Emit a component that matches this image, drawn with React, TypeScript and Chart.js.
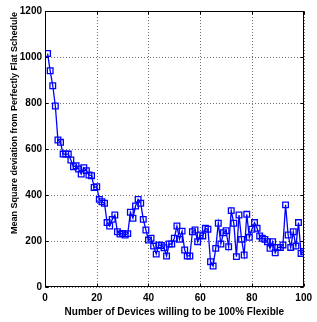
import React, { useEffect, useRef } from "react";
import { Chart, registerables } from "chart.js";

Chart.register(...registerables);

const devices = [
  1, 2, 3, 4, 5, 6, 7, 8, 9, 10,
  11, 12, 13, 14, 15, 16, 17, 18, 19, 20,
  21, 22, 23, 24, 25, 26, 27, 28, 29, 30,
  31, 32, 33, 34, 35, 36, 37, 38, 39, 40,
  41, 42, 43, 44, 45, 46, 47, 48, 49, 50,
  51, 52, 53, 54, 55, 56, 57, 58, 59, 60,
  61, 62, 63, 64, 65, 66, 67, 68, 69, 70,
  71, 72, 73, 74, 75, 76, 77, 78, 79, 80,
  81, 82, 83, 84, 85, 86, 87, 88, 89, 90,
  91, 92, 93, 94, 95, 96, 97, 98, 99, 100,
];

const meanSquareDeviation = [
  1015, 940, 875, 787, 639, 629, 578, 578, 578, 552,
  523, 527, 513, 491, 519, 506, 487, 484, 433, 436,
  381, 371, 364, 280, 265, 294, 313, 240, 230, 233,
  226, 232, 325, 299, 352, 381, 364, 294, 248, 204,
  212, 178, 143, 183, 180, 171, 135, 187, 187, 212,
  265, 207, 243, 161, 135, 135, 240, 248, 197, 226,
  222, 255, 251, 110, 91, 168, 277, 187, 236, 245,
  175, 332, 277, 132, 313, 207, 139, 316, 216, 251,
  280, 255, 222, 212, 207, 197, 168, 197, 149, 172,
  172, 183, 357, 226, 172, 240, 178, 280, 146, 154,
];

const xTickValues = [0, 20, 40, 60, 80, 100];
const yTickValues = [0, 200, 400, 600, 800, 1000, 1200];
const xTitle = "Number of Devices willing to be 100% Flexible";
const yTitle = "Mean Square deviation from Perfectly Flat Schedule";

const FONT = "'Liberation Sans', Arial, sans-serif";

const gridPlugin = {
  id: "dottedGrid",
  beforeDatasetsDraw(chart: any) {
    const { ctx, chartArea } = chart;
    const { left, right, top, bottom } = chartArea;
    const xs = chart.scales.x;
    const ys = chart.scales.y;
    ctx.save();
    ctx.strokeStyle = "#707070";
    ctx.lineWidth = 1;
    ctx.setLineDash([1, 2]);
    ctx.beginPath();
    xTickValues.forEach((v) => {
      const px = Math.round(xs.getPixelForValue(v)) + 0.5;
      ctx.moveTo(px, top);
      ctx.lineTo(px, bottom);
    });
    yTickValues.forEach((v) => {
      const py = Math.round(ys.getPixelForValue(v)) + 0.5;
      ctx.moveTo(left, py);
      ctx.lineTo(right, py);
    });
    ctx.stroke();
    ctx.restore();
  },
};

const framePlugin = {
  id: "matlabFrame",
  afterDraw(chart: any) {
    const { ctx, chartArea } = chart;
    const { left, right, top, bottom } = chartArea;
    const xs = chart.scales.x;
    const ys = chart.scales.y;
    ctx.save();
    ctx.strokeStyle = "#000";
    ctx.lineWidth = 1;
    const L = Math.round(left) + 0.5;
    const R = Math.round(right) - 0.5;
    const T = Math.round(top) + 0.5;
    const B = Math.round(bottom) - 0.5;
    ctx.strokeRect(L, T, R - L, B - T);
    const tl = 3;
    ctx.beginPath();
    xTickValues.forEach((v) => {
      const px = Math.round(xs.getPixelForValue(v)) + 0.5;
      ctx.moveTo(px, B);
      ctx.lineTo(px, B - tl);
      ctx.moveTo(px, T);
      ctx.lineTo(px, T + tl);
    });
    yTickValues.forEach((v) => {
      const py = Math.round(ys.getPixelForValue(v)) + 0.5;
      ctx.moveTo(L, py);
      ctx.lineTo(L + tl, py);
      ctx.moveTo(R, py);
      ctx.lineTo(R - tl, py);
    });
    ctx.stroke();

    ctx.fillStyle = "#000";
    ctx.font = `bold 10px ${FONT}`;
    ctx.textAlign = "center";
    ctx.textBaseline = "middle";
    ctx.fillText(xTitle, (left + right) / 2, 312);

    ctx.font = `bold 9px ${FONT}`;
    ctx.translate(15, 123);
    ctx.rotate(-Math.PI / 2);
    ctx.fillText(yTitle, 0, 0);
    ctx.restore();
  },
};

export default function App() {
  const canvasRef = useRef<HTMLCanvasElement | null>(null);

  useEffect(() => {
    if (!canvasRef.current) return;
    const points = devices.map((d, i) => ({ x: d, y: meanSquareDeviation[i] }));
    const chart = new Chart(canvasRef.current, {
      type: "line",
      data: {
        datasets: [
          {
            data: points,
            borderColor: "#0000ff",
            borderWidth: 1.3,
            backgroundColor: "rgba(255,255,255,0)",
            pointStyle: "rect",
            pointRadius: 4,
            pointBorderWidth: 1.3,
            pointBorderColor: "#0000ff",
            pointBackgroundColor: "rgba(255,255,255,0)",
            tension: 0,
            fill: false,
          },
        ],
      },
      options: {
        responsive: false,
        animation: false,
        devicePixelRatio: 1,
        layout: { padding: { top: 11, right: 7, left: 0, bottom: 0 } },
        plugins: {
          legend: { display: false },
          tooltip: { enabled: false },
          title: { display: false },
        },
        scales: {
          x: {
            type: "linear",
            min: 0,
            max: 100,
            afterBuildTicks: (s: any) => {
              s.ticks = xTickValues.map((v) => ({ value: v }));
            },
            afterFit: (s: any) => {
              s.height = 35;
            },
            grid: { display: false, drawTicks: false },
            border: { display: false },
            ticks: {
              color: "#000",
              font: { family: FONT, size: 10, weight: "bold" },
              padding: 5,
              maxRotation: 0,
              autoSkip: false,
              callback: (v: any) => String(v),
            },
          },
          y: {
            type: "linear",
            min: 0,
            max: 1200,
            afterBuildTicks: (s: any) => {
              s.ticks = yTickValues.map((v) => ({ value: v }));
            },
            afterFit: (s: any) => {
              s.width = 45;
            },
            grid: { display: false, drawTicks: false },
            border: { display: false },
            ticks: {
              color: "#000",
              font: { family: FONT, size: 10, weight: "bold" },
              padding: 3,
              autoSkip: false,
              callback: (v: any) => String(v),
            },
          },
        },
      },
      plugins: [gridPlugin, framePlugin],
    });
    return () => chart.destroy();
  }, []);

  return (
    <div style={{ position: "absolute", left: 0, top: 0, width: 317, height: 322, background: "#fff" }}>
      <canvas ref={canvasRef} width={317} height={322} style={{ display: "block" }} />
    </div>
  );
}
